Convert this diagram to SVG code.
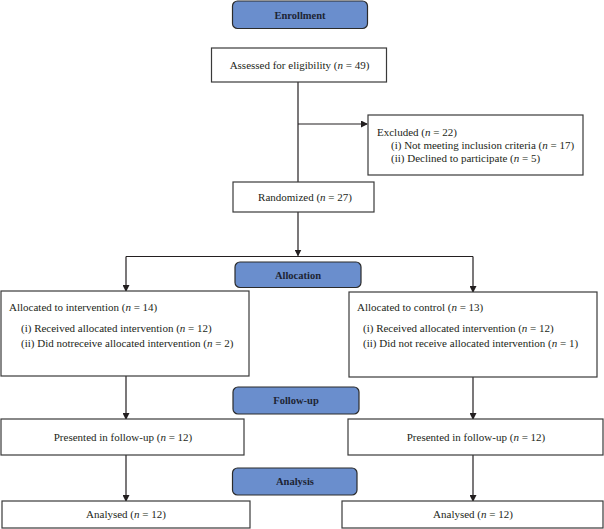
<svg xmlns="http://www.w3.org/2000/svg" width="604" height="529" viewBox="0 0 604 529">
<defs>
<marker id="ah" markerWidth="7" markerHeight="7" refX="6" refY="3.5" orient="auto" markerUnits="userSpaceOnUse">
<path d="M0,0 L7,3.5 L0,7 Z" fill="#231f20"/>
</marker>
<style>
.box{fill:#fff;stroke:#3a3a3a;stroke-width:1.2}
.hdr{fill:#6a8ecd;stroke:#2b2b2b;stroke-width:1.2}
text{font-family:"Liberation Serif","Times New Roman",serif;font-size:11px;fill:#231f20}
.c{text-anchor:middle}
.h{font-size:10.5px;font-weight:bold;fill:#1d2433}
.i{font-style:italic}
.ln{fill:none;stroke:#231f20;stroke-width:1.2}
</style>
</defs>
<rect width="604" height="529" fill="#fff"/>
<g id="connectors">
<path class="ln" d="M298,82 V182"/>
<path class="ln" d="M298,124 H367" marker-end="url(#ah)"/>
<path class="ln" d="M298,212 V255.5" marker-end="url(#ah)"/>
<path class="ln" d="M126,256.5 H473"/>
<path class="ln" d="M126,256.5 V291" marker-end="url(#ah)"/>
<path class="ln" d="M473,256.5 V292" marker-end="url(#ah)"/>
<path class="ln" d="M126,376 V419" marker-end="url(#ah)"/>
<path class="ln" d="M473,377 V419" marker-end="url(#ah)"/>
<path class="ln" d="M126,455 V501" marker-end="url(#ah)"/>
<path class="ln" d="M473,455 V501" marker-end="url(#ah)"/>
</g>
<g id="enrollment">
<rect class="hdr" x="232.5" y="1" width="135" height="27.5" rx="5"/>
<text class="c h" x="300" y="18.5">Enrollment</text>
</g>
<g id="assessed">
<rect class="box" x="211.5" y="48" width="175" height="34"/>
<text class="c" x="299.5" y="69">Assessed for eligibility (<tspan class="i">n</tspan> = 49)</text>
</g>
<g id="excluded">
<rect class="box" x="368" y="115" width="215" height="60"/>
<text x="377" y="135.5">Excluded (<tspan class="i">n</tspan> = 22)</text>
<text x="391" y="149">(i) Not meeting inclusion criteria (<tspan class="i">n</tspan> = 17)</text>
<text x="391" y="162">(ii) Declined to participate (<tspan class="i">n</tspan> = 5)</text>
</g>
<g id="randomized">
<rect class="box" x="233" y="182" width="141" height="30"/>
<text class="c" x="305" y="201">Randomized (<tspan class="i">n</tspan> = 27)</text>
</g>
<g id="allocation">
<rect class="hdr" x="235" y="262" width="126" height="25.5" rx="5"/>
<text class="c h" x="298" y="278.5">Allocation</text>
</g>
<g id="alloc-intervention">
<rect class="box" x="1" y="291" width="248" height="85"/>
<text x="9" y="310.5">Allocated to intervention (<tspan class="i">n</tspan> = 14)</text>
<text x="21" y="331.5">(i) Received allocated intervention (<tspan class="i">n</tspan> = 12)</text>
<text x="21" y="346.5">(ii) Did notreceive allocated intervention (<tspan class="i">n</tspan> = 2)</text>
</g>
<g id="alloc-control">
<rect class="box" x="349" y="292" width="248" height="85"/>
<text x="357" y="310.5">Allocated to control (<tspan class="i">n</tspan> = 13)</text>
<text x="363" y="331.5">(i) Received allocated intervention (<tspan class="i">n</tspan> = 12)</text>
<text x="363" y="346.5">(ii) Did not receive allocated intervention (<tspan class="i">n</tspan> = 1)</text>
</g>
<g id="followup">
<rect class="hdr" x="233" y="387" width="126" height="27" rx="5"/>
<text class="c h" x="296" y="403.5">Follow-up</text>
</g>
<g id="followup-left">
<rect class="box" x="1" y="419" width="243" height="36"/>
<text class="c" x="123" y="441">Presented in follow-up (<tspan class="i">n</tspan> = 12)</text>
</g>
<g id="followup-right">
<rect class="box" x="348" y="419" width="255" height="36"/>
<text class="c" x="476" y="441">Presented in follow-up (<tspan class="i">n</tspan> = 12)</text>
</g>
<g id="analysis">
<rect class="hdr" x="232.5" y="468" width="124.5" height="27" rx="5"/>
<text class="c h" x="295" y="484.5">Analysis</text>
</g>
<g id="analysed-left">
<rect class="box" x="2" y="501" width="248" height="27"/>
<text class="c" x="126" y="518">Analysed (<tspan class="i">n</tspan> = 12)</text>
</g>
<g id="analysed-right">
<rect class="box" x="342" y="501" width="261" height="27"/>
<text class="c" x="473" y="518">Analysed (<tspan class="i">n</tspan> = 12)</text>
</g>
</svg>
